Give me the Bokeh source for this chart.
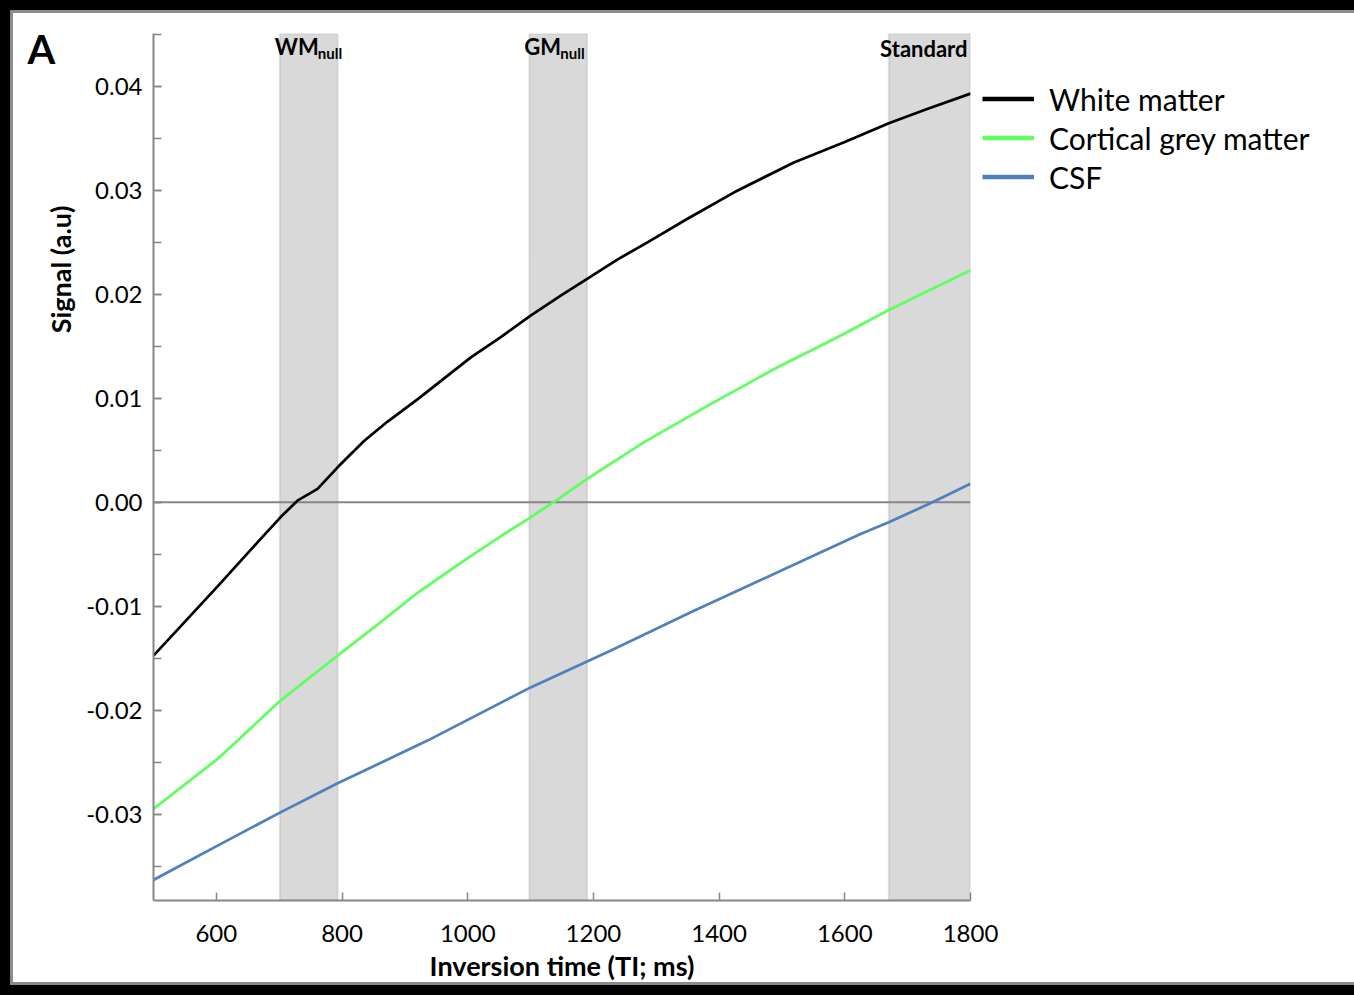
import math
from bokeh.plotting import figure
from bokeh.models import (Range1d, FixedTicker, SingleIntervalTicker, NumeralTickFormatter,
                          Legend, LegendItem, BoxAnnotation, Span, Label, InlineStyleSheet)
from bokeh.embed import file_html
from bokeh.resources import INLINE

# ---------------- data ----------------
ti_wm = [500, 602, 668, 702, 729, 761, 793, 835, 872, 920, 962, 1005, 1052, 1100, 1148, 1190,
         1238, 1286, 1349, 1424, 1519, 1599, 1670, 1731, 1800]
sig_wm = [-0.01475, -0.00808, -0.00368, -0.00144, 0.00016, 0.00129, 0.00337, 0.00590, 0.00775,
          0.00990, 0.01190, 0.01395, 0.01587, 0.01796, 0.01988, 0.02149, 0.02335, 0.02501,
          0.02726, 0.02982, 0.03270, 0.03463, 0.03646, 0.03784, 0.03932]

ti_gm = [500, 602, 702, 793, 860, 920, 994, 1042, 1100, 1148, 1190, 1280, 1387, 1493, 1583, 1670, 1800]
sig_gm = [-0.02949, -0.02468, -0.01907, -0.01475, -0.01160, -0.00870, -0.00560, -0.00368, -0.00144,
          0.00048, 0.00225, 0.00577, 0.00947, 0.01299, 0.01572, 0.01851, 0.02232]

ti_csf = [500, 602, 702, 793, 936, 1100, 1164, 1227, 1360, 1493, 1625, 1670, 1737, 1800]
sig_csf = [-0.03632, -0.03302, -0.02982, -0.02703, -0.02292, -0.01780, -0.01603, -0.01427,
           -0.01042, -0.00673, -0.00304, -0.00192, -0.00006, 0.00180]

series_names = ["White matter", "Cortical grey matter", "CSF"]
series_colors = ["#000000", "#5EFF5E", "#4F81BD"]

band_names = ["WM", "GM", "Standard"]
band_subs = ["null", "null", ""]
band_start = [701, 1098, 1670]
band_end = [793, 1190, 1800]

x_ticks = [600, 800, 1000, 1200, 1400, 1600, 1800]
x_range = (500, 1800)
y_range = (-0.0383, 0.0451)

FONT = "Lato"

# ---------------- figure ----------------
p = figure(frame_width=817, frame_height=867,
           min_border_left=153, min_border_right=384, min_border_top=33, min_border_bottom=95,
           x_range=Range1d(*x_range), y_range=Range1d(*y_range),
           output_backend="svg", toolbar_location=None)
p.grid.visible = False
p.outline_line_color = None
p.background_fill_color = "white"
p.border_fill_color = "white"
p.stylesheets = [InlineStyleSheet(css=(
    ":host{position:relative;}"
    ":host::after{content:'';position:absolute;left:0;top:0;right:0;bottom:0;"
    "border:10px solid #000;box-shadow:inset 0 0 0 3px #8c8c8c;box-sizing:border-box;"
    "pointer-events:none;z-index:100;}"))]

# bands
for s, e in zip(band_start, band_end):
    p.add_layout(BoxAnnotation(left=s, right=e, fill_color="#D9D9D9", fill_alpha=1.0,
                               line_color="#A6A6A6", line_width=2, level="underlay"))

# zero line
p.add_layout(Span(location=0, dimension="width", line_color="#868686", line_width=2, level="underlay"))

# curves
r_wm = p.line(ti_wm, sig_wm, line_color=series_colors[0], line_width=2.75, line_join="round")
r_gm = p.line(ti_gm, sig_gm, line_color=series_colors[1], line_width=2.75, line_join="round")
r_csf = p.line(ti_csf, sig_csf, line_color=series_colors[2], line_width=2.75, line_join="round")

# legend: thicker stand-in lines whose data lie outside the visible range
dummies = [p.line([0, 1], [1, 1], line_color=c, line_width=4.5) for c in series_colors]
legend = Legend(items=[LegendItem(label=n, renderers=[d]) for n, d in zip(series_names, dummies)],
                location=(12, 704), orientation="vertical",
                glyph_width=52, glyph_height=39, label_height=39, spacing=0, padding=0, margin=0,
                label_standoff=15, border_line_color=None, background_fill_alpha=0,
                label_text_font=FONT, label_text_font_size="30px", label_text_color="black")
p.add_layout(legend, "right")

# axes
xa = p.xaxis[0]
xa.ticker = FixedTicker(ticks=x_ticks)
ya = p.yaxis[0]
ya.ticker = SingleIntervalTicker(interval=0.01, num_minor_ticks=2)
ya.formatter = NumeralTickFormatter(format="0.00")
for ax in (xa, ya):
    ax.axis_line_color = "#868686"
    ax.axis_line_width = 2
    ax.major_tick_line_color = "#868686"
    ax.minor_tick_line_color = "#868686"
    ax.major_tick_line_width = 1.5
    ax.minor_tick_line_width = 1.5
    ax.major_tick_in = 8
    ax.major_tick_out = 0
    ax.minor_tick_in = 8
    ax.minor_tick_out = 0
    ax.major_label_text_font = FONT
    ax.major_label_text_font_size = "24px"
    ax.major_label_text_color = "black"
xa.major_label_standoff = 24
ya.major_label_standoff = 11
xa.axis_label = "Inversion time (TI; ms)"
xa.axis_label_text_font = FONT
xa.axis_label_text_font_style = "bold"
xa.axis_label_text_font_size = "27px"
xa.axis_label_text_color = "black"
xa.axis_label_standoff = 4


def lab(place=None, **kw):
    base = dict(text_font=FONT, text_color="black", text_font_style="bold")
    base.update(kw)
    if place is None:
        p.add_layout(Label(**base))
    else:
        p.add_layout(Label(**base), place)


# y-axis title and panel letter (side panel so they are not clipped)
lab("left", x=500, y=0.0224, x_offset=-93, text="Signal (a.u)", angle=math.pi / 2,
    text_align="center", text_baseline="middle", text_font_size="27px")
lab("left", x=500, y=y_range[1], x_offset=-126, y_offset=-15, text="A",
    text_align="left", text_baseline="alphabetic", text_font_size="40px")

# band labels
lab(x=band_start[0], y=y_range[1], x_offset=-5, y_offset=-13, text=band_names[0],
    text_align="left", text_baseline="alphabetic", text_font_size="22px")
lab(x=band_start[0], y=y_range[1], x_offset=38, y_offset=-19, text=band_subs[0],
    text_align="left", text_baseline="alphabetic", text_font_size="15px")
lab(x=band_start[1], y=y_range[1], x_offset=-5, y_offset=-13, text=band_names[1],
    text_align="left", text_baseline="alphabetic", text_font_size="22px")
lab(x=band_start[1], y=y_range[1], x_offset=31, y_offset=-19, text=band_subs[1],
    text_align="left", text_baseline="alphabetic", text_font_size="15px")
lab(x=band_end[2], y=y_range[1], x_offset=-3, y_offset=-15, text=band_names[2],
    text_align="right", text_baseline="alphabetic", text_font_size="22px")

open("out.html", "w").write(file_html(p, INLINE))
